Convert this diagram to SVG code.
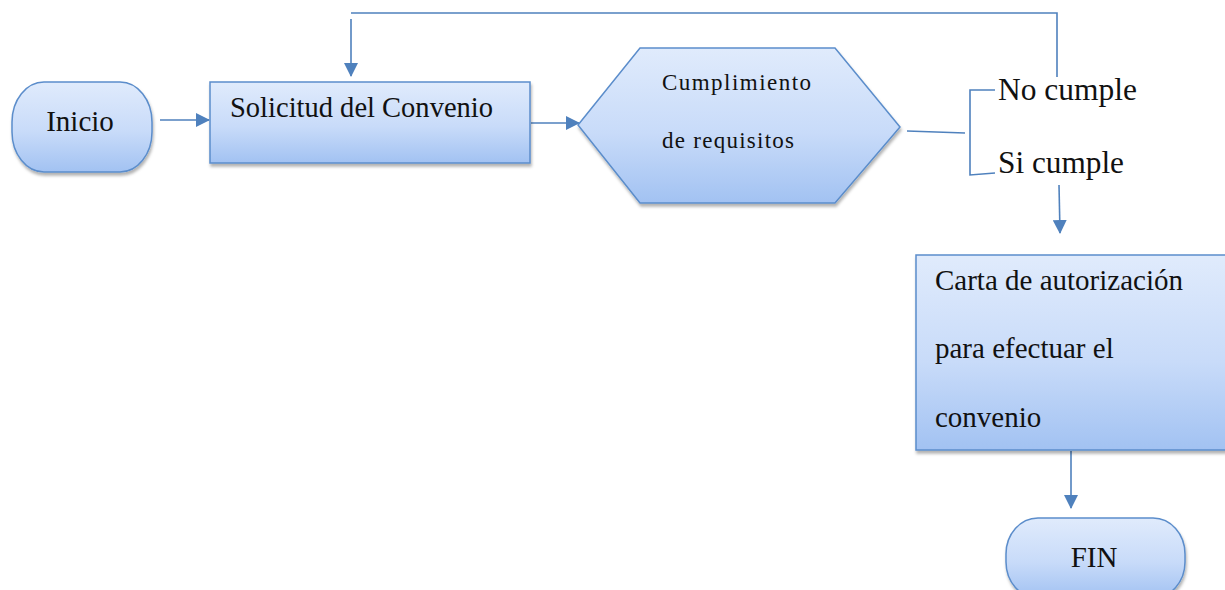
<svg xmlns="http://www.w3.org/2000/svg" width="1225" height="590" viewBox="0 0 1225 590">
<style>
.shape{fill:url(#g);stroke:#5b8dcb;stroke-width:1.5;filter:url(#sh)}
.t{font-family:"Liberation Serif","Times New Roman",serif;font-size:29px;fill:#111}
.tl{font-family:"Liberation Serif","Times New Roman",serif;font-size:31.5px;fill:#111}
.ts{font-family:"Liberation Serif","Times New Roman",serif;font-size:23px;fill:#111}
.c{fill:none;stroke:#4f81bd;stroke-width:1.6}
</style>
<defs>
<linearGradient id="g" x1="0" y1="0" x2="0" y2="1">
<stop offset="0" stop-color="#e0ebfc"/>
<stop offset="0.55" stop-color="#c8dbf9"/>
<stop offset="1" stop-color="#a2c2f2"/>
</linearGradient>
<filter id="sh" x="-10%" y="-10%" width="120%" height="130%">
<feDropShadow dx="1" dy="3" stdDeviation="1.5" flood-color="#000" flood-opacity="0.3"/>
</filter>
<marker id="b" markerWidth="14" markerHeight="14" refX="13" refY="7" orient="auto" markerUnits="userSpaceOnUse">
<path d="M0,0 L14,7 L0,14 Z" fill="#4f81bd"/>
</marker>
</defs>
<g id="connectors">
<line class="c" x1="160" y1="120" x2="209" y2="120" marker-end="url(#b)"/>
<line class="c" x1="531" y1="123" x2="579" y2="123" marker-end="url(#b)"/>
<polyline class="c" points="1057,77 1057,13 351,13"/>
<line class="c" x1="351" y1="19" x2="351" y2="76" marker-end="url(#b)"/>
<polyline class="c" points="907,131 965,133"/>
<polyline class="c" points="995,90 970,90 970,175 995,173"/>
<line class="c" x1="1059" y1="185" x2="1060" y2="233" marker-end="url(#b)"/>
<line class="c" x1="1071" y1="451" x2="1071" y2="508" marker-end="url(#b)"/>
</g>
<g id="inicio">
<rect class="shape" x="12" y="82" width="140" height="90" rx="32" ry="40"/>
<text class="t" x="80" y="131" text-anchor="middle">Inicio</text>
</g>
<g id="solicitud">
<rect class="shape" x="210" y="82" width="320" height="81"/>
<text class="t" x="230" y="117" textLength="263" lengthAdjust="spacingAndGlyphs">Solicitud del Convenio</text>
</g>
<g id="cumplimiento">
<polygon class="shape" points="578,125 640,48 835,48 900,127 835,203 640,203"/>
<text class="ts" x="662" y="90" textLength="149" lengthAdjust="spacing">Cumplimiento</text>
<text class="ts" x="662" y="148" textLength="132" lengthAdjust="spacing">de requisitos</text>
</g>
<g id="no-cumple">
<text class="tl" x="998" y="100" textLength="139" lengthAdjust="spacingAndGlyphs">No cumple</text>
</g>
<g id="si-cumple">
<text class="tl" x="998" y="173" textLength="126" lengthAdjust="spacingAndGlyphs">Si cumple</text>
</g>
<g id="carta">
<rect class="shape" x="916" y="255" width="320" height="195"/>
<text class="t" x="935" y="290" textLength="248" lengthAdjust="spacingAndGlyphs">Carta de autorización</text>
<text class="t" x="935" y="358">para efectuar el</text>
<text class="t" x="935" y="427">convenio</text>
</g>
<g id="fin">
<rect class="shape" x="1006" y="518" width="179" height="80" rx="32" ry="36"/>
<text class="t" x="1094" y="567" text-anchor="middle">FIN</text>
</g>
</svg>
